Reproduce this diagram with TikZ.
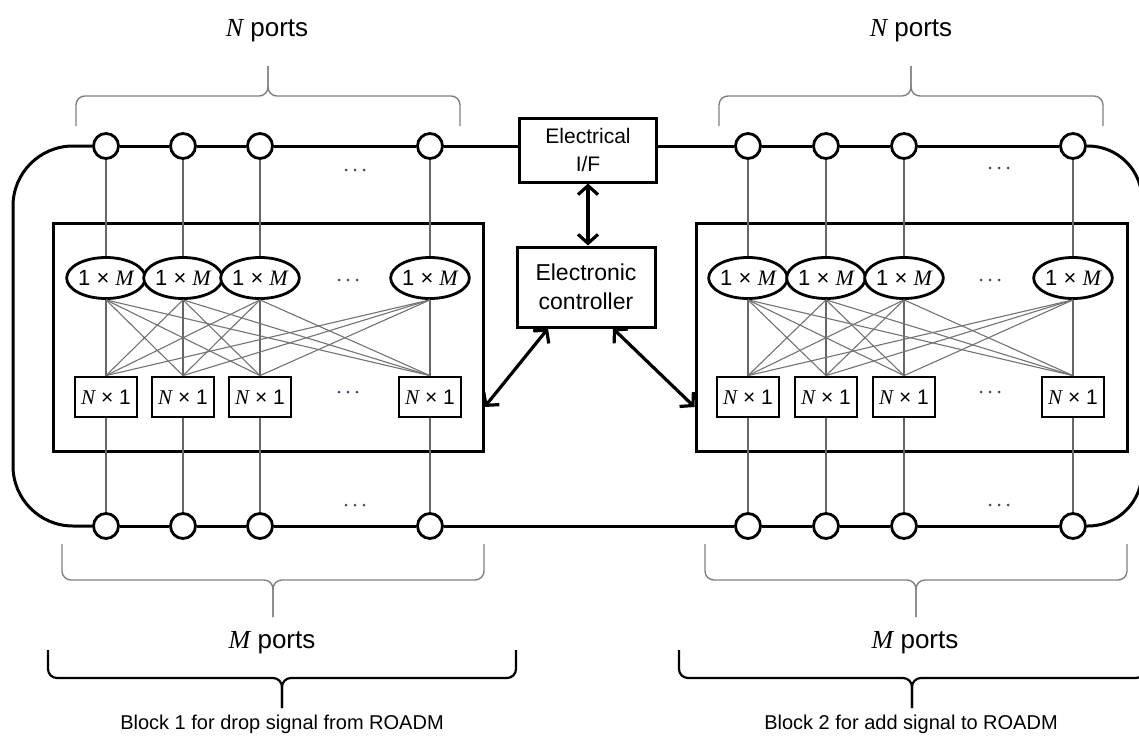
\documentclass[tikz,border=0pt]{standalone}
\usepackage{fontspec}
\setmainfont{Liberation Sans}
\newfontfamily\tmsfont{Liberation Serif}
\usetikzlibrary{shapes.geometric,arrows.meta}

\newcommand\symN{{\tmsfont\itshape N}}
\newcommand\symM{{\tmsfont\itshape M}}
\definecolor{dotcol}{HTML}{3A4A6A}

% horizontal curly brace: x-left, x-right, y of the ends, y of the bar, y of the tip, style
\newcommand\hbrace[6]{%
  \draw[#6] (#1,#3) -- (#1,#4) -- ({(#1+#2)/2},#4) -- ({(#1+#2)/2},#5);
  \draw[#6] ({(#1+#2)/2},#5) -- ({(#1+#2)/2},#4) -- (#2,#4) -- (#2,#3);
}

\tikzset{
  port/.style={circle, draw, fill=white, line width=2.8pt, minimum size=25pt, inner sep=0pt},
  splitter/.style={ellipse, draw, fill=white, line width=2.8pt, minimum width=77pt,
    minimum height=41pt, inner sep=0pt, font=\fontsize{22}{26}\selectfont},
  combiner/.style={rectangle, draw, fill=white, line width=2.8pt, minimum width=62pt,
    minimum height=40pt, inner sep=0pt, font=\fontsize{21}{25}\selectfont},
  blockframe/.style={rectangle, draw, line width=3pt, inner sep=0pt},
  ctrlbox/.style={rectangle, draw, fill=white, line width=3pt, align=center,
    inner sep=0pt},
  busline/.style={line width=3pt},
  portline/.style={draw=black!60, line width=1.4pt},
  meshline/.style={draw=black!55, line width=1.1pt},
  ctrllink/.style={line width=3.2pt,
    {Straight Barb[length=9pt,width=20pt]}-{Straight Barb[length=9pt,width=20pt]}},
  portbrace/.style={draw=black!50, line width=1.4pt, rounded corners=9pt},
  blockbrace/.style={draw=black, line width=2.2pt, rounded corners=9pt},
  portlabel/.style={font=\fontsize{26}{30}\selectfont, inner sep=0pt},
  blocklabel/.style={font=\fontsize{20}{24}\selectfont, inner sep=0pt},
  threedots/.pic={\foreach \d in {-9,0,9} \fill[dotcol] (\d pt,0pt) circle (1.5pt);}
}

\begin{document}
\begin{tikzpicture}[x=1pt, y=-1pt]
  \path[fill=white, use as bounding box] (0,0) rectangle (1139,736);

  % central electronics
  \node[ctrlbox, minimum width=137pt, minimum height=64pt, font=\fontsize{21}{28}\selectfont]
    (ifbox) at (588,150) {Electrical\\I/F};
  \node[ctrlbox, minimum width=138pt, minimum height=80pt, font=\fontsize{23}{29}\selectfont]
    (ctrl) at (586,287) {Electronic\\controller};

  % switching blocks
  \node[blockframe, minimum width=430pt, minimum height=228pt] (lbox) at (268,337) {};
  \node[blockframe, minimum width=431pt, minimum height=228pt] (rbox) at (911.5,337) {};

  % ports, splitters and combiners of block 1
  \foreach \x [count=\i] in {106,183,260,430} {
    \node[port] (lt\i) at (\x,146) {};
    \node[port] (lb\i) at (\x,526) {};
    \node[splitter] (ls\i) at (\x,278) {1 × \symM};
    \node[combiner] (lc\i) at (\x,397) {\symN\ × 1};
  }
  % ports, splitters and combiners of block 2
  \foreach \x [count=\i] in {748,826,904,1073} {
    \node[port] (rt\i) at (\x,146) {};
    \node[port] (rb\i) at (\x,526) {};
    \node[splitter] (rs\i) at (\x,278) {1 × \symM};
    \node[combiner] (rc\i) at (\x,397) {\symN\ × 1};
  }

  % port lines through each column
  \foreach \s in {l,r} {
    \foreach \i in {1,...,4} {
      \draw[portline] (\s t\i) -- (\s s\i) (\s s\i) -- (\s c\i) (\s c\i) -- (\s b\i);
    }
    % full mesh between splitters and combiners
    \foreach \i in {1,...,4} {
      \foreach \j in {1,...,4} {
        \ifnum\i=\j\else
          \draw[meshline] (\s s\i.south) -- (\s c\j.north);
        \fi
      }
    }
    % bus between neighbouring ports
    \foreach \i/\j in {1/2,2/3,3/4} {
      \draw[busline] (\s t\i) -- (\s t\j);
      \draw[busline] (\s b\i) -- (\s b\j);
    }
  }
  \draw[busline] (lt4) -- (lt4 -| ifbox.west);
  \draw[busline] (ifbox.east |- rt1) -- (rt1);
  \draw[busline] (lb4) -- (rb1);
  \draw[busline, rounded corners=60pt] (lt1.west) -- (13,146) -- (13,526) -- (lb1.west);
  \draw[busline, rounded corners=54pt] (rt4.east) -- (1142,146) -- (1142,526) -- (rb4.east);

  % control links
  \draw[ctrllink] (ifbox.south) -- (ifbox.south |- ctrl.north);
  \draw[ctrllink] ([xshift=-38pt]ctrl.south) -- ([yshift=-70pt]lbox.east);
  \draw[ctrllink] ([xshift=27pt]ctrl.south) -- ([yshift=-70pt]rbox.west);

  % ellipsis marks
  \pic at (355,170) {threedots};
  \pic at (355,505) {threedots};
  \pic at (348,280) {threedots};
  \pic at (348,392) {threedots};
  \pic at (999,168) {threedots};
  \pic at (999,505) {threedots};
  \pic at (990,280) {threedots};
  \pic at (990,392) {threedots};

  % braces
  \hbrace{76}{460}{126}{96}{66}{portbrace}
  \hbrace{719}{1103}{126}{96}{66}{portbrace}
  \hbrace{62}{484}{544}{580}{617}{portbrace}
  \hbrace{705}{1127}{544}{580}{617}{portbrace}
  \hbrace{48}{516}{650}{678}{708}{blockbrace}
  \hbrace{679}{1145}{650}{678}{708}{blockbrace}

  % labels
  \node[portlabel] (nl) at (267,31) {\symN\ ports};
  \node[portlabel] (nr) at (911,31) {\symN\ ports};
  \node[portlabel] (ml) at (272,643) {\symM\ ports};
  \node[portlabel] (mr) at (915,643) {\symM\ ports};
  \node[blocklabel] (bl) at (282,724) {Block 1 for drop signal from ROADM};
  \node[blocklabel] (br) at (911,724) {Block 2 for add signal to ROADM};
\end{tikzpicture}
\end{document}
